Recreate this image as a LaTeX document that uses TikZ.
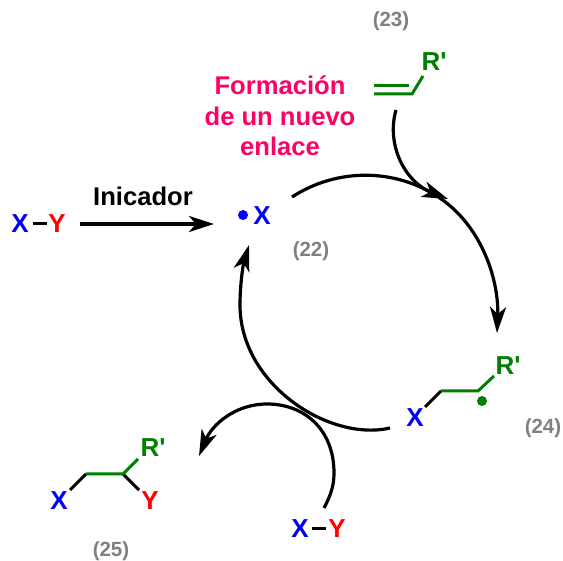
\documentclass[tikz,border=0pt]{standalone}
\usepackage{fontspec}
\usetikzlibrary{arrows.meta}
\newfontfamily\chemfont{Liberation Sans}
\definecolor{cgreen}{HTML}{008000}
\definecolor{cblue}{HTML}{0000FF}
\definecolor{cred}{HTML}{FF0000}
\definecolor{cpink}{HTML}{FF0066}
\definecolor{cgray}{HTML}{808080}
\tikzset{
  atom/.style={inner sep=0pt,font=\chemfont\bfseries\fontsize{26}{29}\selectfont},
  xatom/.style={atom,text=cblue},
  yatom/.style={atom,text=cred},
  ratom/.style={atom,text=cgreen},
  numlabel/.style={inner sep=0pt,text=cgray,font=\chemfont\bfseries\fontsize{20.5}{24}\selectfont},
  pinklabel/.style={inner sep=0pt,text=cpink,font=\chemfont\bfseries\fontsize{25.6}{31}\selectfont},
  blacklabel/.style={inner sep=0pt,font=\chemfont\bfseries\fontsize{25.6}{31}\selectfont},
  bond/.style={line width=3pt,black},
  gbond/.style={line width=3pt,cgreen,line join=miter},
  curved/.style={line width=3.2pt,black,-{Stealth[length=26pt,width=16pt,inset=7pt]}},
  radical/.style={circle,inner sep=0pt,minimum size=10pt},
}
\begin{document}
\begin{tikzpicture}[x=1pt,y=-1pt]
\useasboundingbox (0,0) rectangle (563,561);
% left X-Y
\node[xatom] (x1) at (20,224) {X};
\node[yatom] (y1) at (57,224) {Y};
\coordinate (b1a) at (33,224); \coordinate (b1b) at (47,224);
\draw[bond] (b1a) -- (b1b);
\node[blacklabel] (ini) at (143,196) {Inicador};
\coordinate (ia) at (80,224); \coordinate (ib) at (214,224);
\draw[line width=3.2pt,-{Stealth[length=25pt,width=16pt,inset=7pt]}] (ia) -- (ib);
% radical X
\node[radical,fill=cblue] (dot1) at (243,215) {};
\node[xatom] (x2) at (262,216) {X};
\node[numlabel] (n22) at (311,251) {(22)};
% alkene
\node[numlabel] (n23) at (391,21) {(23)};
\node[ratom] (r1) at (434,62) {R'};
\coordinate (a1) at (374,86); \coordinate (a2) at (409,86);
\coordinate (a3) at (374,94); \coordinate (a4) at (412,94); \coordinate (a5) at (423,76);
\draw[gbond] (a1) -- (a2);
\draw[gbond] (a3) -- (a4) -- (a5);
\node[pinklabel] (f1) at (280,85) {Formación};
\node[pinklabel] (f2) at (280,116) {de un nuevo};
\node[pinklabel] (f3) at (280,146) {enlace};
% adduct 24
\node[ratom] (r2) at (508,366) {R'};
\node[xatom] (x3) at (415,418) {X};
\node[radical,fill=cgreen] (dot2) at (482,401) {};
\node[numlabel] (n24) at (543,428) {(24)};
\coordinate (c1) at (425,407); \coordinate (c2) at (441,391);
\coordinate (c3) at (478,391); \coordinate (c4) at (494,376);
\draw[bond] (c1) -- (c2);
\draw[gbond] (c2) -- (c3) -- (c4);
% product 25
\node[xatom] (x4) at (59,501) {X};
\node[yatom] (y4) at (150,501) {Y};
\node[ratom] (r3) at (153,448) {R'};
\node[numlabel] (n25) at (111,551) {(25)};
\coordinate (d1) at (70,490); \coordinate (d2) at (86,474);
\coordinate (d3) at (123,474); \coordinate (d4) at (138,459); \coordinate (d5) at (139,490);
\draw[bond] (d1) -- (d2);
\draw[bond] (d3) -- (d5);
\draw[gbond] (d2) -- (d3) -- (d4);
% bottom X-Y
\node[xatom] (x5) at (300,529) {X};
\node[yatom] (y5) at (337,529) {Y};
\coordinate (e1) at (312,529); \coordinate (e2) at (326,529);
\draw[bond] (e1) -- (e2);
% curved arrows
\coordinate (s1) at (292,197); \coordinate (m1) at (439.4,197.7); \coordinate (t1) at (497,333);
\draw[curved] (s1) .. controls (336.8,167.9) and (395.1,167.8) .. (m1)
  .. controls (483.7,227.6) and (499,283) .. (t1);
\coordinate (s2) at (396,110); \coordinate (t2) at (448,199);
\draw[curved] (s2) .. controls (386,145) and (405,182) .. (t2);
\coordinate (s3) at (390,428); \coordinate (m3) at (240,305); \coordinate (t3) at (249,245);
\draw[curved] (s3) .. controls (330,442) and (240,385) .. (m3)
  .. controls (240,285) and (243,265) .. (t3);
\coordinate (s4) at (324,508); \coordinate (m4) at (334,473); \coordinate (m5) at (267,404); \coordinate (t4) at (199,456);
\draw[curved] (s4) .. controls (331,495) and (334,485) .. (m4)
  .. controls (334,430) and (305,404) .. (m5)
  .. controls (235,404) and (212,425) .. (t4);
\end{tikzpicture}
\end{document}
